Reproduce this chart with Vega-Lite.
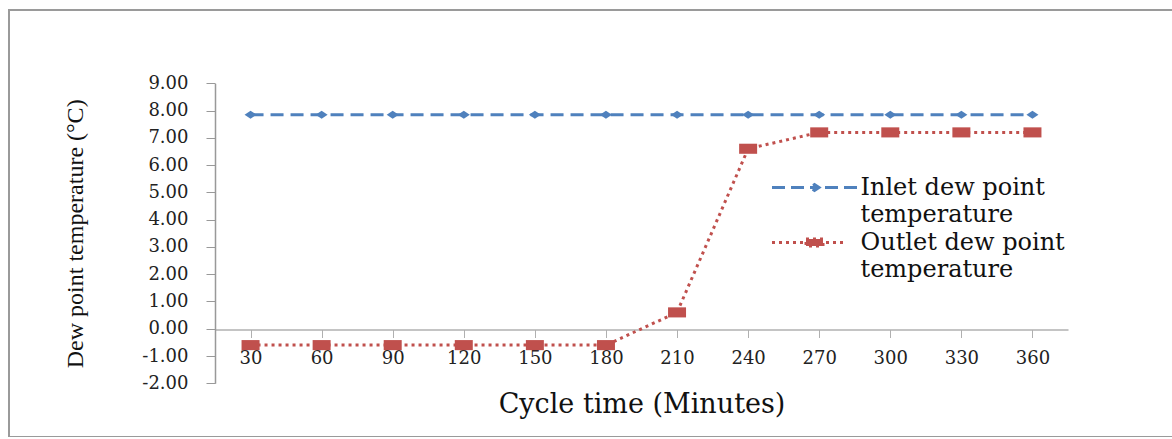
{
  "$schema": "https://vega.github.io/schema/vega-lite/v6.json",
  "width": 1170,
  "height": 427,
  "autosize": {"type": "none"},
  "padding": {"left": 9, "top": 10, "right": 0, "bottom": 0},
  "background": "white",
  "config": {"view": {"stroke": "#9a9a9a", "strokeWidth": 2}},
  "data": {
    "values": [
      {"time": 30, "series": "Inlet dew point temperature", "temp": 7.85},
      {"time": 60, "series": "Inlet dew point temperature", "temp": 7.85},
      {"time": 90, "series": "Inlet dew point temperature", "temp": 7.85},
      {"time": 120, "series": "Inlet dew point temperature", "temp": 7.85},
      {"time": 150, "series": "Inlet dew point temperature", "temp": 7.85},
      {"time": 180, "series": "Inlet dew point temperature", "temp": 7.85},
      {"time": 210, "series": "Inlet dew point temperature", "temp": 7.85},
      {"time": 240, "series": "Inlet dew point temperature", "temp": 7.85},
      {"time": 270, "series": "Inlet dew point temperature", "temp": 7.85},
      {"time": 300, "series": "Inlet dew point temperature", "temp": 7.85},
      {"time": 330, "series": "Inlet dew point temperature", "temp": 7.85},
      {"time": 360, "series": "Inlet dew point temperature", "temp": 7.85},
      {"time": 30, "series": "Outlet dew point temperature", "temp": -0.6},
      {"time": 60, "series": "Outlet dew point temperature", "temp": -0.6},
      {"time": 90, "series": "Outlet dew point temperature", "temp": -0.6},
      {"time": 120, "series": "Outlet dew point temperature", "temp": -0.6},
      {"time": 150, "series": "Outlet dew point temperature", "temp": -0.6},
      {"time": 180, "series": "Outlet dew point temperature", "temp": -0.6},
      {"time": 210, "series": "Outlet dew point temperature", "temp": 0.6},
      {"time": 240, "series": "Outlet dew point temperature", "temp": 6.6},
      {"time": 270, "series": "Outlet dew point temperature", "temp": 7.2},
      {"time": 300, "series": "Outlet dew point temperature", "temp": 7.2},
      {"time": 330, "series": "Outlet dew point temperature", "temp": 7.2},
      {"time": 360, "series": "Outlet dew point temperature", "temp": 7.2}
    ]
  },
  "encoding": {
    "x": {
      "field": "time",
      "type": "ordinal",
      "scale": {"range": [206, 1059], "paddingInner": 0, "paddingOuter": 0},
      "axis": {
        "title": "Cycle time (Minutes)",
        "titleFont": "DejaVu Serif",
        "titleFontSize": 27,
        "titleFontWeight": "normal",
        "titleColor": "#111111",
        "titlePadding": 24,
        "offset": -107.5,
        "labelAngle": 0,
        "labelFont": "DejaVu Serif",
        "labelFontSize": 18,
        "labelColor": "#222222",
        "labelPadding": 12,
        "tickSize": 8,
        "tickColor": "#b0b0b0",
        "domainColor": "#b0b0b0",
        "domainWidth": 1.5,
        "grid": false
      }
    },
    "y": {
      "field": "temp",
      "type": "quantitative",
      "scale": {"domain": [-2, 9], "range": [373.3, 73.3], "nice": false, "zero": false},
      "axis": {
        "title": "Dew point temperature (°C)",
        "titleFont": "Liberation Serif",
        "titleFontSize": 24,
        "titleFontWeight": "normal",
        "titleColor": "#111111",
        "titlePadding": 54,
        "offset": -206,
        "values": [-2, -1, 0, 1, 2, 3, 4, 5, 6, 7, 8, 9],
        "labelExpr": "replace(format(datum.value, '.2f'), '−', '-')",
        "labelFont": "DejaVu Serif",
        "labelFontSize": 18,
        "labelColor": "#222222",
        "labelPadding": 18,
        "tickSize": 9,
        "tickColor": "#999999",
        "domainColor": "#999999",
        "domainWidth": 1.5,
        "grid": false
      }
    },
    "color": {
      "field": "series",
      "type": "nominal",
      "scale": {
        "domain": ["Inlet dew point temperature", "Outlet dew point temperature"],
        "range": ["#4F81BD", "#C0504D"]
      },
      "legend": {
        "title": null,
        "orient": "none",
        "legendX": 756,
        "legendY": 165.5,
        "padding": 0,
        "symbolSize": 100,
        "symbolOffset": 37.5,
        "labelOffset": 34,
        "labelFont": "DejaVu Serif",
        "labelFontSize": 24,
        "labelColor": "#111111",
        "labelLimit": 400,
        "rowPadding": 4,
        "labelExpr": "datum.value == 'Inlet dew point temperature' ? ['Inlet dew point', 'temperature'] : ['Outlet dew point', 'temperature']",
        "encode": {
          "symbols": {
            "update": {
              "shape": {"signal": "datum.value == 'Inlet dew point temperature' ? 'M-8.5,0H-5.9M-4.7,0H-2.1M-0.9,0H0.9M2.1,0H4.7M5.9,0H8.5M0,-0.6L0.9,0L0,0.6L-0.9,0Z' : 'M-8.5,0H-7.9M-7.1,0H-6.5M-5.7,0H-5.1M-4.3,0H-3.7M-2.9,0H-2.3M2.3,0H2.9M3.7,0H4.3M5.1,0H5.7M-1.7,-0.7H1.7V0.7H-1.7Z'"},
              "fill": {"signal": "datum.value == 'Inlet dew point temperature' ? '#4F81BD' : '#C0504D'"},
              "stroke": {"signal": "datum.value == 'Inlet dew point temperature' ? '#4F81BD' : '#C0504D'"},
              "strokeWidth": {"value": 3},
              "opacity": {"value": 1}
            }
          },
          "labels": {
            "update": {"lineHeight": {"value": 27}}
          }
        }
      }
    }
  },
  "layer": [
    {
      "mark": {"type": "line", "strokeWidth": 3, "strokeCap": "butt"},
      "encoding": {
        "strokeDash": {
          "field": "series",
          "type": "nominal",
          "scale": {
            "domain": ["Inlet dew point temperature", "Outlet dew point temperature"],
            "range": [[13, 7], [3, 4]]
          },
          "legend": null
        }
      }
    },
    {
      "transform": [{"filter": "datum.series == 'Inlet dew point temperature'"}],
      "mark": {"type": "point", "filled": true, "opacity": 1, "shape": "M-1,0L0,-0.67L1,0L0,0.67Z", "size": 144}
    },
    {
      "transform": [{"filter": "datum.series == 'Outlet dew point temperature'"}],
      "mark": {"type": "point", "filled": true, "opacity": 1, "shape": "M-1,-0.56H1V0.56H-1Z", "size": 324}
    }
  ]
}
